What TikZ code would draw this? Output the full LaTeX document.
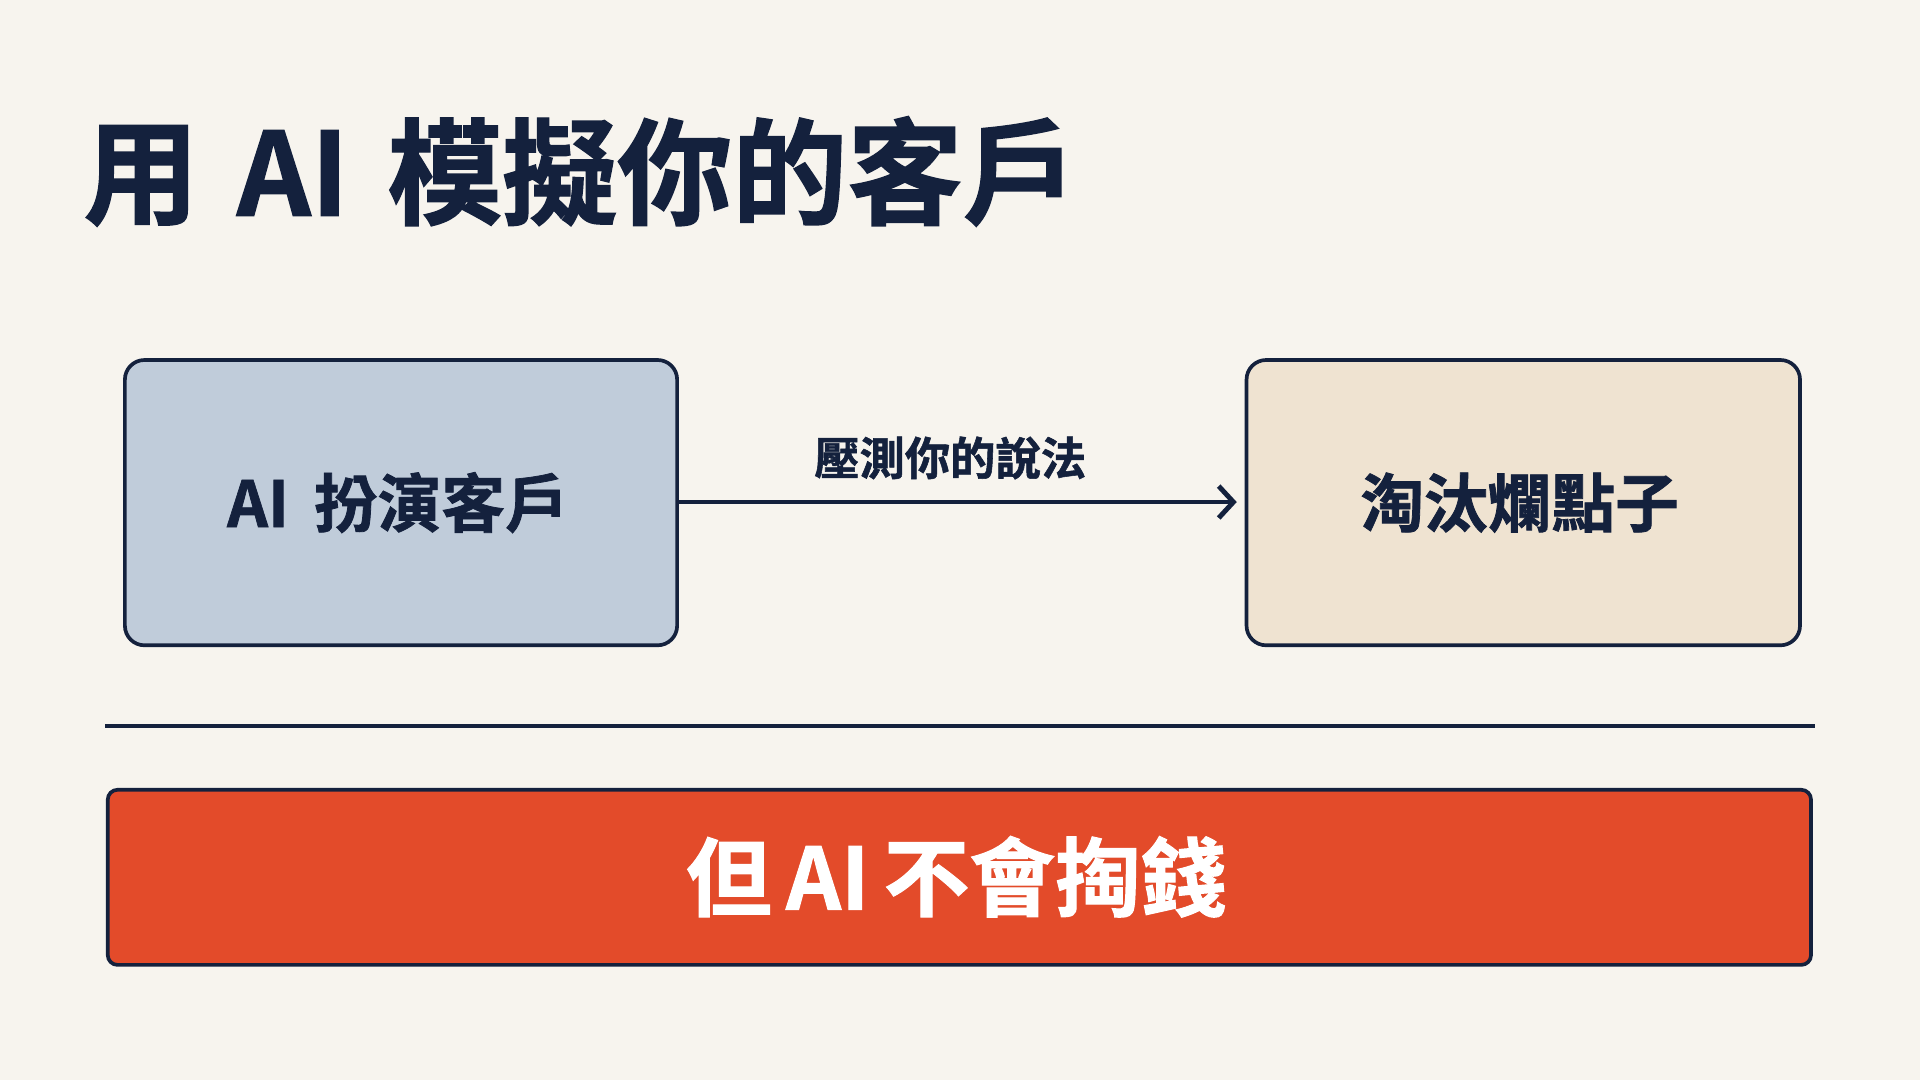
\documentclass[tikz,border=0pt]{standalone}
\usepackage{fontspec}
\newfontfamily\cjk{Noto Sans CJK TC}[BoldFont={* Bold},BoldFeatures={FakeBold=1.2}]
\usetikzlibrary{arrows.meta}
\definecolor{bg}{HTML}{F7F4EE}
\definecolor{ink}{HTML}{14213D}
\definecolor{bluebox}{HTML}{C0CCDA}
\definecolor{sandbox}{HTML}{EFE3D1}
\definecolor{redbox}{HTML}{E34B2A}
\begin{document}
\begin{tikzpicture}[x=1pt,y=-1pt,
  card/.style={draw=ink,line width=3pt,rounded corners=16pt,inner sep=0pt},
  cardtext/.style={font=\cjk\bfseries\fontsize{52}{60}\selectfont,text=ink}]
\fill[bg] (0,0) rectangle (1568,882);
\useasboundingbox (0,0) rectangle (1568,882);
\node[anchor=west,text=ink,font=\cjk\bfseries\fontsize{94}{106}\selectfont,inner sep=0pt] (title) at (68,140) {用\,\,AI\,\,模擬你的客戶};
\draw[card,fill=bluebox] (102,294) rectangle (553,527);
\node[cardtext] (left) at (325,410.5) {AI\, 扮演客戶};
\draw[card,fill=sandbox] (1018,294) rectangle (1470,527);
\node[cardtext] (right) at (1241,410.5) {淘汰爛點子};
\coordinate (ls) at (553,410);
\coordinate (le) at (1010,410);
\draw[ink,line width=3pt,-{Straight Barb[length=12pt,width=26pt,line width=4pt]}] (ls) -- (le);
\node[text=ink,font=\cjk\bfseries\fontsize{37}{44}\selectfont] (lab) at (776,374) {壓測你的說法};
\coordinate (h1) at (86,593);
\coordinate (h2) at (1482,593);
\draw[ink,line width=3pt] (h1) -- (h2);
\draw[draw=ink,line width=3pt,rounded corners=8pt,fill=redbox] (88,645) rectangle (1479,788);
\node[text=white,font=\cjk\bfseries\fontsize{70}{80}\selectfont] (bottom) at (781,716) {但\,AI\,不會掏錢};
\end{tikzpicture}
\end{document}
